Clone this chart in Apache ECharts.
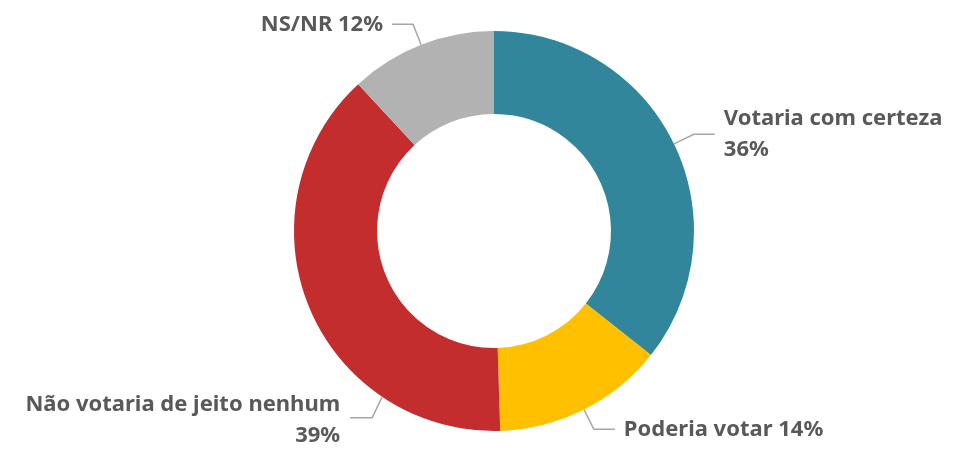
<!DOCTYPE html>
<html>
<head>
<meta charset="utf-8">
<script src="https://cdn.jsdelivr.net/npm/echarts@6/dist/echarts.min.js"></script>
<style>
  html, body { margin: 0; padding: 0; background: #fff; }
  #main { width: 979px; height: 454px; }
</style>
</head>
<body>
<div id="main"></div>
<script>
// dados
const categories = ["Votaria com certeza", "Poderia votar", "Não votaria de jeito nenhum", "NS/NR"];
const values = [36, 14, 39, 12];
const colors = ["#31869B", "#FFC000", "#C32D2E", "#B2B2B2"];

const cx = 494, cy = 231, rIn = 117, rOut = 200;

let myChart = echarts.init(document.getElementById("main"));

// ponto na borda externa, angulo em graus a partir do topo (sentido horario)
function edgePoint(deg, r) {
  const a = deg * Math.PI / 180;
  return [cx + r * Math.sin(a), cy - r * Math.cos(a)];
}

let option = {
  animation: false,
  series: [
    {
      type: "pie",
      center: [cx, cy],
      radius: [rIn, rOut],
      startAngle: 90,
      avoidLabelOverlap: false,
      data: categories.map((name, i) => ({
        name: name,
        value: values[i],
        itemStyle: { color: colors[i] }
      })),
      label: {
        show: true,
        position: "outside",
        fontFamily: "Noto Sans",
        fontWeight: "bold",
        fontSize: 22,
        lineHeight: 31,
        color: "#595959",
        distanceToLabelLine: 9,
        formatter: function (p) {
          if (p.dataIndex === 0 || p.dataIndex === 2) return p.name + "\n" + p.value + "%";
          return p.name + " " + p.value + "%";
        }
      },
      labelLine: {
        show: true,
        length: 22,
        length2: 21,
        smooth: false,
        lineStyle: { color: "#A6A6A6", width: 1.5 }
      },
      labelLayout: function (params) {
        if (params.dataIndex !== 2) return {};
        // rotulo do vermelho fica embaixo a esquerda
        const p0 = edgePoint(214, rOut);
        const p1 = [p0[0] - 10, p0[1] + 21];
        const p2 = [p1[0] - 22, p1[1]];
        return {
          x: p2[0] - 10,
          y: p2[1] + 2,
          align: "right",
          verticalAlign: "middle",
          labelLinePoints: [p0, p1, p2]
        };
      }
    }
  ]
};

myChart.setOption(option);
</script>
</body>
</html>
